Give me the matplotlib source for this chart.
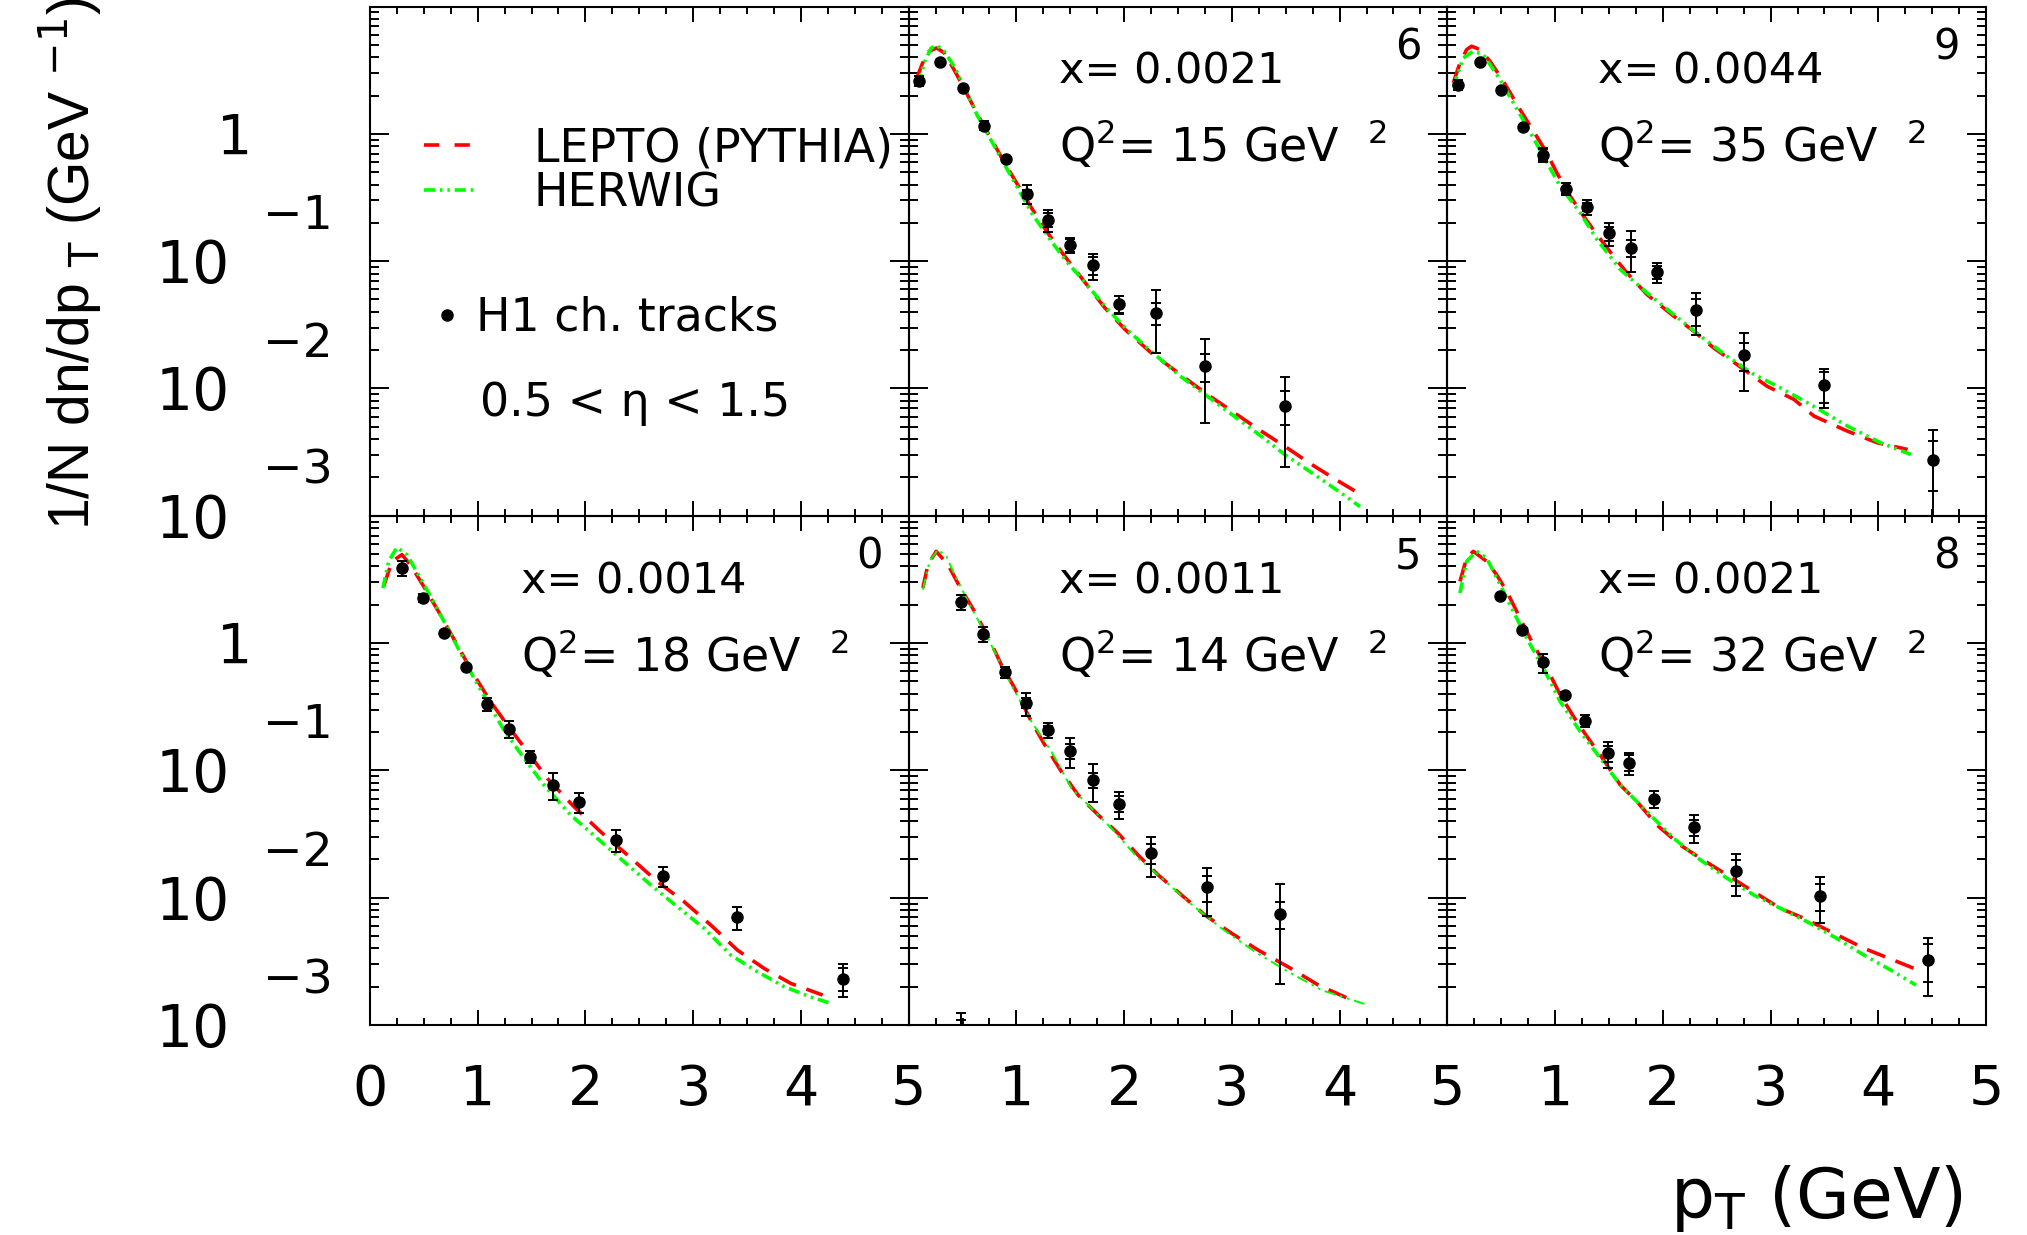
import numpy as np
import matplotlib
matplotlib.use('Agg')
import matplotlib.pyplot as plt
import matplotlib.transforms as mtransforms
from matplotlib.lines import Line2D
from matplotlib.ticker import MultipleLocator, LogLocator, NullFormatter

# ---- data ----
# panel "6": x=0.0021, Q2=15
pt6 = [0.10, 0.29, 0.50, 0.70, 0.90, 1.10, 1.29, 1.50, 1.71, 1.95, 2.30, 2.75, 3.49]
h1_6 = [2.62, 3.70, 2.28, 1.16, 0.629, 0.340, 0.212, 0.134, 0.093, 0.0462, 0.0393, 0.0150, 0.00735]
tot6 = [0.09, 0.03, 0.03, 0.08, 0.04, 0.17, 0.20, 0.135, 0.235, 0.16, 0.52, 0.64, 0.67]
stat6 = [0.09, 0.03, 0.03, 0.08, 0.04, 0.075, 0.12, 0.12, 0.16, 0.15, 0.20, 0.25, 0.30]
lepto_pt6 = [0.07, 0.13, 0.19, 0.26, 0.33, 0.43, 0.52, 0.64, 0.77, 0.89, 1.02, 1.14, 1.29, 1.45, 1.64,
             1.82, 2.01, 2.25, 2.50, 2.75, 3.00, 3.25, 3.49, 3.74, 3.99, 4.22]
lepto6 = [2.67, 3.61, 4.46, 4.73, 4.33, 3.10, 2.23, 1.42, 0.902, 0.592, 0.388, 0.262, 0.167, 0.109, 0.0676,
          0.0431, 0.0290, 0.0191, 0.0133, 0.00925, 0.00664, 0.00476, 0.00352, 0.00253, 0.00187, 0.00143]
herwig_pt6 = [0.09, 0.15, 0.21, 0.26, 0.33, 0.43, 0.52, 0.64, 0.77, 0.89, 1.02, 1.14, 1.29, 1.45, 1.64,
              1.82, 2.01, 2.25, 2.50, 2.75, 3.00, 3.25, 3.49, 3.74, 3.99, 4.19]
herwig6 = [2.44, 3.72, 4.73, 4.97, 4.46, 3.30, 2.30, 1.38, 0.875, 0.574, 0.366, 0.240, 0.157, 0.103, 0.0676,
           0.0444, 0.0299, 0.0196, 0.0129, 0.00897, 0.00625, 0.00436, 0.00303, 0.00218, 0.00156, 0.00118]

# panel "9": x=0.0044, Q2=35
pt9 = [0.10, 0.30, 0.50, 0.70, 0.89, 1.10, 1.30, 1.50, 1.70, 1.95, 2.31, 2.75, 3.50, 4.51]
h1_9 = [2.44, 3.65, 2.23, 1.135, 0.688, 0.372, 0.267, 0.165, 0.127, 0.0824, 0.0410, 0.0183, 0.0106, 0.00272]
tot9 = [0.09, 0.03, 0.03, 0.03, 0.12, 0.11, 0.13, 0.20, 0.35, 0.18, 0.36, 0.48, 0.34, 0.75]
stat9 = [0.09, 0.03, 0.03, 0.03, 0.10, 0.10, 0.08, 0.12, 0.15, 0.12, 0.24, 0.25, 0.27, 0.42]
lepto_pt9 = [0.055, 0.117, 0.179, 0.225, 0.303, 0.396, 0.52, 0.675, 0.799, 0.923, 1.016, 1.14, 1.264, 1.388,
             1.543, 1.667, 1.853, 2.101, 2.287, 2.473, 2.69, 2.969, 3.218, 3.403, 3.714, 3.993, 4.272]
lepto9 = [2.51, 3.61, 4.59, 4.88, 4.59, 3.72, 2.59, 1.55, 1.05, 0.710, 0.494, 0.324, 0.226, 0.162,
          0.109, 0.0810, 0.0547, 0.0370, 0.0282, 0.0208, 0.0154, 0.0104, 0.0082, 0.00607, 0.00462, 0.00374, 0.00332]
herwig_pt9 = [0.055, 0.148, 0.241, 0.334, 0.489, 0.613, 0.737, 0.892, 1.047, 1.233, 1.388, 1.605, 1.853,
              2.101, 2.349, 2.597, 2.845, 3.093, 3.372, 3.714, 4.024, 4.303]
herwig9 = [2.34, 3.95, 4.46, 4.20, 2.67, 1.75, 1.15, 0.668, 0.388, 0.240, 0.148, 0.0861, 0.0564,
           0.0381, 0.0258, 0.0179, 0.0129, 0.0101, 0.00748, 0.00506, 0.00374, 0.00303]

# panel "0": x=0.0014, Q2=18
pt0 = [0.30, 0.49, 0.69, 0.89, 1.09, 1.29, 1.49, 1.70, 1.94, 2.28, 2.72, 3.41, 4.39]
h1_0 = [3.89, 2.26, 1.20, 0.644, 0.333, 0.211, 0.128, 0.0769, 0.0562, 0.0284, 0.0148, 0.0070, 0.00232]
tot0 = [0.14, 0.075, 0.03, 0.03, 0.12, 0.15, 0.11, 0.235, 0.18, 0.20, 0.18, 0.21, 0.29]
stat0 = [0.14, 0.075, 0.03, 0.03, 0.12, 0.15, 0.11, 0.235, 0.18, 0.20, 0.18, 0.21, 0.20]
lepto_pt0 = [0.127, 0.205, 0.297, 0.375, 0.499, 0.654, 0.809, 0.964, 1.119, 1.274, 1.46, 1.646, 1.893,
             2.141, 2.389, 2.668, 2.916, 3.164, 3.412, 3.66, 3.908, 4.202]
lepto0 = [2.79, 4.39, 4.95, 4.13, 2.79, 1.67, 0.970, 0.564, 0.348, 0.228, 0.141, 0.0867, 0.0520,
          0.0330, 0.0217, 0.0134, 0.00931, 0.00610, 0.00387, 0.00278, 0.00212, 0.00172]
herwig_pt0 = [0.121, 0.174, 0.251, 0.344, 0.468, 0.623, 0.778, 0.933, 1.088, 1.243, 1.429, 1.615, 1.862,
              2.11, 2.358, 2.606, 2.854, 3.102, 3.35, 3.598, 3.846, 4.093, 4.279]
herwig0 = [2.71, 4.39, 5.65, 4.95, 3.24, 1.88, 1.06, 0.598, 0.348, 0.208, 0.125, 0.0769, 0.0447,
           0.0293, 0.0192, 0.0126, 0.00849, 0.00574, 0.00354, 0.00262, 0.00200, 0.00166, 0.00148]

# panel "5": x=0.0011, Q2=14
pt5 = [0.49, 0.49, 0.69, 0.89, 1.09, 1.29, 1.50, 1.71, 1.95, 2.25, 2.77, 3.45]
h1_5 = [0.0009, 2.10, 1.18, 0.588, 0.337, 0.207, 0.142, 0.0842, 0.0549, 0.0223, 0.0121, 0.00745]
tot5 = [0.37, 0.14, 0.14, 0.095, 0.21, 0.135, 0.26, 0.33, 0.24, 0.35, 0.41, 0.72]
stat5 = [0.22, 0.14, 0.14, 0.095, 0.09, 0.07, 0.13, 0.14, 0.14, 0.18, 0.23, 0.24]
lepto_pt5 = [0.132, 0.179, 0.256, 0.365, 0.473, 0.612, 0.752, 0.86, 0.984, 1.139, 1.263, 1.418, 1.573,
             1.759, 1.944, 2.13, 2.316, 2.533, 2.75, 2.998, 3.246, 3.524, 3.803, 4.113]
lepto5 = [2.71, 4.13, 5.26, 4.13, 2.79, 1.77, 1.06, 0.676, 0.443, 0.242, 0.159, 0.0979, 0.0641,
          0.0447, 0.0321, 0.0216, 0.0151, 0.0105, 0.00731, 0.00525, 0.00387, 0.00286, 0.00206, 0.00157]
herwig_pt5 = [0.132, 0.194, 0.272, 0.349, 0.427, 0.55, 0.736, 0.953, 1.139, 1.325, 1.511, 1.697, 1.883,
              2.13, 2.316, 2.595, 2.905, 3.215, 3.524, 3.834, 4.268]
herwig5 = [2.63, 4.39, 5.42, 4.81, 3.44, 2.13, 1.09, 0.470, 0.242, 0.141, 0.0724, 0.0505, 0.0351,
           0.0204, 0.0151, 0.00931, 0.00574, 0.00376, 0.00262, 0.00188, 0.00143]

# panel "8": x=0.0021, Q2=32
pt8 = [0.49, 0.69, 0.89, 1.09, 1.28, 1.49, 1.69, 1.92, 2.29, 2.68, 3.46, 4.46]
h1_8 = [2.33, 1.26, 0.705, 0.388, 0.246, 0.136, 0.115, 0.0597, 0.0357, 0.0162, 0.0104, 0.00324]
tot8 = [0.03, 0.03, 0.17, 0.07, 0.11, 0.23, 0.20, 0.155, 0.25, 0.36, 0.39, 0.48]
stat8 = [0.03, 0.03, 0.06, 0.07, 0.11, 0.14, 0.14, 0.155, 0.14, 0.23, 0.24, 0.33]
lepto_pt8 = [0.117, 0.179, 0.241, 0.365, 0.458, 0.551, 0.675, 0.768, 0.923, 1.047, 1.171, 1.295, 1.45,
             1.605, 1.76, 1.946, 2.163, 2.349, 2.597, 2.845, 3.093, 3.31, 3.558, 3.869, 4.179, 4.334]
lepto8 = [3.05, 4.66, 5.26, 4.39, 3.44, 2.55, 1.57, 1.09, 0.635, 0.393, 0.265, 0.185, 0.121,
          0.0769, 0.0569, 0.0372, 0.0259, 0.0204, 0.0151, 0.0111, 0.00824, 0.00689, 0.00541, 0.00400, 0.00314, 0.00278]
herwig_pt8 = [0.117, 0.179, 0.272, 0.365, 0.489, 0.613, 0.737, 0.892, 1.047, 1.233, 1.419, 1.605, 1.853,
              2.101, 2.349, 2.597, 2.845, 3.093, 3.341, 3.59, 3.869, 4.117, 4.349]
herwig8 = [2.47, 4.39, 5.26, 4.66, 2.88, 1.77, 1.09, 0.635, 0.348, 0.202, 0.125, 0.0769, 0.0474,
           0.0293, 0.0198, 0.0142, 0.0105, 0.00824, 0.00647, 0.00493, 0.00354, 0.00270, 0.00206]

panel_ids = ['6', '9', '0', '5', '8']
panel_x = ['0.0021', '0.0044', '0.0014', '0.0011', '0.0021']
panel_q2 = ['15', '35', '18', '14', '32']

# ---- style ----
plt.rcParams['font.family'] = ['DejaVu Sans']
plt.rcParams['mathtext.fontset'] = 'dejavusans'
plt.rcParams['lines.scale_dashes'] = False
plt.rcParams['axes.linewidth'] = 1.5

RED_LS = (0, (14, 8))
GREEN_LS = (0, (8, 3.5, 1.8, 3.5, 1.8, 3.5))
GREEN = '#00ff00'

fig, axes = plt.subplots(2, 3, figsize=(20.27, 12.35), dpi=100)
fig.subplots_adjust(left=0.1825, right=0.9798, bottom=0.170, top=0.9947, wspace=0, hspace=0)

for r in range(2):
    for c in range(3):
        ax = axes[r, c]
        ax.set_facecolor('none')
        ax.set_xlim(0, 5)
        ax.set_yscale('log')
        ax.set_ylim(1e-3, 10)
        ax.xaxis.set_major_locator(MultipleLocator(1))
        ax.xaxis.set_minor_locator(MultipleLocator(0.25))
        ax.yaxis.set_major_locator(LogLocator(base=10, numticks=20))
        ax.yaxis.set_minor_locator(LogLocator(base=10, subs=np.arange(2, 10), numticks=50))
        ax.yaxis.set_major_formatter(NullFormatter())
        ax.yaxis.set_minor_formatter(NullFormatter())
        ax.tick_params(which='both', direction='in', top=True, right=True, width=1.4,
                       labelleft=False, labelsize=40, pad=27)
        ax.tick_params(axis='x', which='major', length=10.6)
        ax.tick_params(axis='x', which='minor', length=5.3)
        ax.tick_params(axis='y', which='major', length=13.4)
        ax.tick_params(axis='y', which='minor', length=6.7)
        if r == 0:
            ax.tick_params(labelbottom=False)
        else:
            ax.set_xticks([0, 1, 2, 3, 4, 5])
            ax.set_xticklabels(['0' if c == 0 else '', '1', '2', '3', '4', '5'])

# y tick labels, ROOT-like "10" with the exponent raised above
for r in range(2):
    ax = axes[r, 0]
    tr = mtransforms.blended_transform_factory(ax.transAxes, ax.transData)
    tr_base = mtransforms.offset_copy(tr, fig=fig, y=-15.8, units='points')
    tr_one = mtransforms.offset_copy(tr, fig=fig, y=-14.4, units='points')
    tr_exp = mtransforms.offset_copy(tr, fig=fig, y=23.0, units='points')
    ax.text(-0.219, 1.0, '1', transform=tr_one, ha='right', va='baseline', fontsize=40)
    for k in [1, 2, 3]:
        ax.text(-0.2597, 10.0 ** (-k), '10', transform=tr_base, ha='right', va='baseline', fontsize=42)
        ax.text(-0.0686, 10.0 ** (-k), '\u2212%d' % k, transform=tr_exp, ha='right', va='baseline', fontsize=34)

# data panels
data_axes = [axes[0, 1], axes[0, 2], axes[1, 0], axes[1, 1], axes[1, 2]]
series = [
    (pt6, h1_6, tot6, stat6, lepto_pt6, lepto6, herwig_pt6, herwig6),
    (pt9, h1_9, tot9, stat9, lepto_pt9, lepto9, herwig_pt9, herwig9),
    (pt0, h1_0, tot0, stat0, lepto_pt0, lepto0, herwig_pt0, herwig0),
    (pt5, h1_5, tot5, stat5, lepto_pt5, lepto5, herwig_pt5, herwig5),
    (pt8, h1_8, tot8, stat8, lepto_pt8, lepto8, herwig_pt8, herwig8),
]
green_lw = [2.6, 2.6, 2.6, 1.4, 2.6]

for i, ax in enumerate(data_axes):
    pt, h1, tot, stat, lpt, lep, hpt, her = series[i]
    h1 = np.array(h1)
    ax.plot(lpt, lep, color='red', lw=2.6, ls=RED_LS)
    ax.plot(hpt, her, color=GREEN, lw=green_lw[i], ls=GREEN_LS)
    ax.errorbar(pt, h1, yerr=np.array(tot) * h1, fmt='o', color='black', ms=8,
                elinewidth=1.4, capsize=3.8, capthick=1.4)
    ax.errorbar(pt, h1, yerr=np.array(stat) * h1, fmt='none', ecolor='black',
                elinewidth=1.4, capsize=3.8, capthick=1.4)
    ax.text(0.28, 0.848, 'x= ' + panel_x[i], transform=ax.transAxes, fontsize=31, va='baseline')
    ax.text(0.28, 0.696, 'Q$^{2}$= ' + panel_q2[i] + ' GeV  $^{2}$', transform=ax.transAxes,
            fontsize=33, va='baseline')
    ax.text(0.952, 0.896, panel_ids[i], transform=ax.transAxes, fontsize=30, ha='right', va='baseline')

# legend panel
ax0 = axes[0, 0]
h_lep = Line2D([], [], color='red', lw=2.6, ls=(0, (11, 11)))
h_her = Line2D([], [], color=GREEN, lw=2.6, ls=GREEN_LS)
leg1 = ax0.legend([h_lep, h_her], ['LEPTO (PYTHIA)', 'HERWIG'], loc='upper left',
                  bbox_to_anchor=(0.100, 0.765), frameon=False, fontsize=33,
                  handlelength=1.18, handletextpad=1.22, labelspacing=0.0,
                  borderpad=0, borderaxespad=0)
ax0.add_artist(leg1)
h_dot = Line2D([], [], color='black', marker='o', ls='none', ms=8)
ax0.legend([h_dot], ['H1 ch. tracks'], loc='upper left', bbox_to_anchor=(0.118, 0.432),
           frameon=False, fontsize=33, handlelength=0.6, handletextpad=0.33,
           borderpad=0, borderaxespad=0)
ax0.text(0.204, 0.196, '0.5 < \u03b7 < 1.5', transform=ax0.transAxes, fontsize=33, va='baseline')

# axis titles
fig.text(1963 / 2027, 17 / 1235, 'p$_{\\mathrm{T}}$ (GeV)', ha='right', va='baseline', fontsize=50)
fig.text(90 / 2027, 1 - 530 / 1235, '1/N dn/dp $_{\\mathrm{T}}$ (GeV $^{-1}$)', rotation=90,
         rotation_mode='anchor', ha='left', va='baseline', fontsize=41,
         family='Liberation Sans')

fig.savefig('out.png', dpi=100)
